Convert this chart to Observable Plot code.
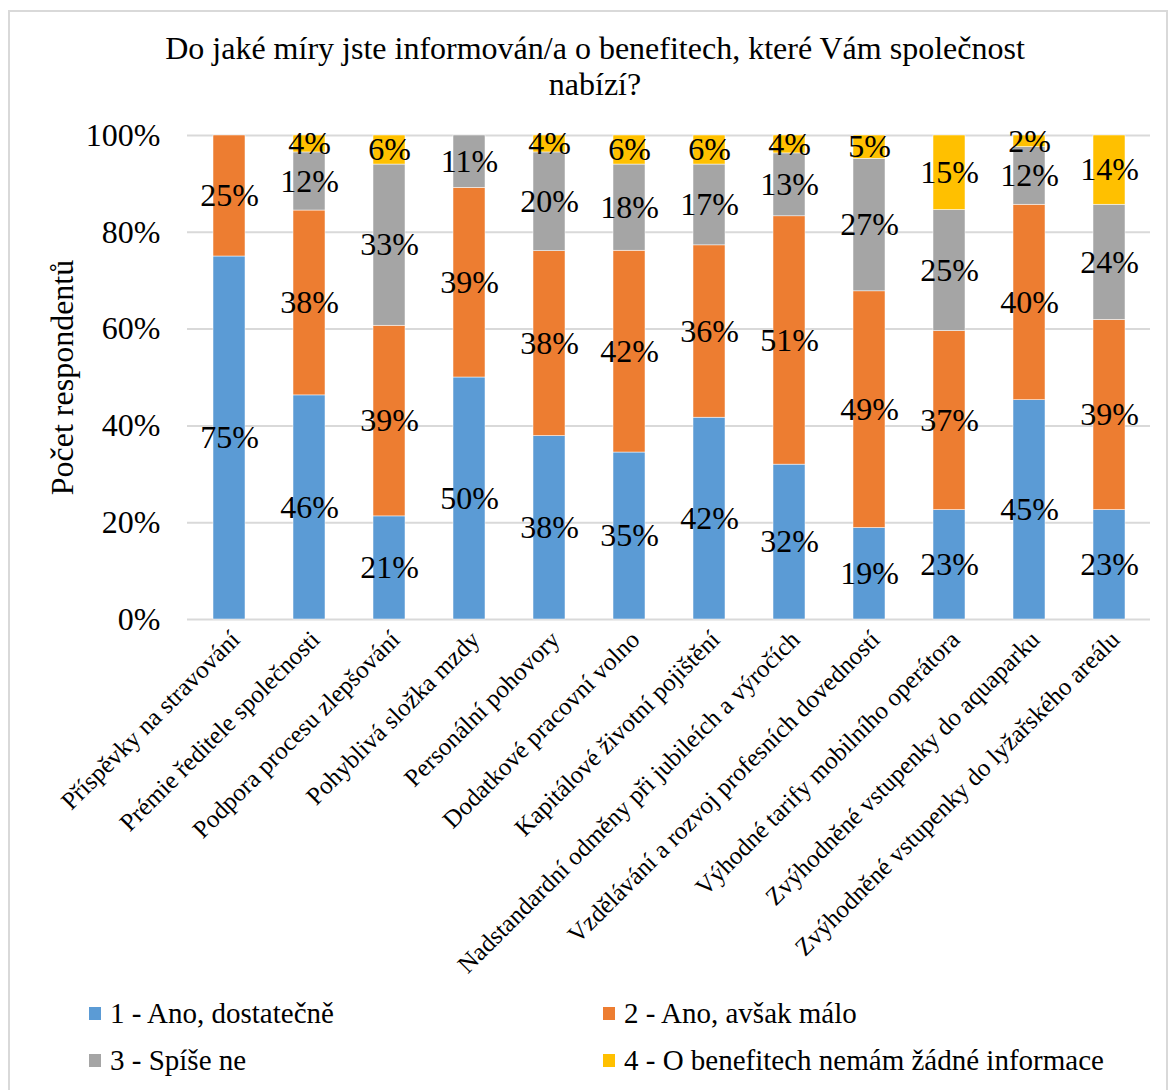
<!DOCTYPE html>
<html><head><meta charset="utf-8">
<script src="https://cdn.jsdelivr.net/npm/d3@7"></script>
<script src="https://cdn.jsdelivr.net/npm/@observablehq/plot@0.6"></script>
<style>
body{margin:0;background:#fff;font-family:'Liberation Serif','Times New Roman',serif;color:#000;}
#frame{position:absolute;left:8px;top:10px;width:1160px;height:1100px;border:2px solid #d9d9d9;box-sizing:border-box;}
#title{position:absolute;left:0;width:1190px;top:30px;text-align:center;font-size:32px;line-height:36px;}
#chart{position:absolute;left:0;top:105px;}
.leg{position:absolute;font-size:29px;line-height:30px;white-space:nowrap;}
.sw{position:absolute;width:12px;height:13px;}
</style></head>
<body>
<div id="frame"></div>
<div id="title">Do jaké míry jste informován/a o benefitech, které Vám společnost<br>nabízí?</div>
<div id="chart"></div>
<div id="legend"></div>
<script>
const categories = [
  "Příspěvky na stravování",
  "Prémie ředitele společnosti",
  "Podpora procesu zlepšování",
  "Pohyblivá složka mzdy",
  "Personální pohovory",
  "Dodatkové pracovní volno",
  "Kapitálové životní pojištění",
  "Nadstandardní odměny při jubileích a výročích",
  "Vzdělávání a rozvoj profesních dovedností",
  "Výhodné tarify mobilního operátora",
  "Zvýhodněné vstupenky do aquaparku",
  "Zvýhodněné vstupenky do lyžařského areálu"
];
const seriesNames = [
  "1 - Ano, dostatečně",
  "2 - Ano, avšak málo",
  "3 - Spíše ne",
  "4 - O benefitech nemám žádné informace"
];
const colors = ["#5B9BD5", "#ED7D31", "#A5A5A5", "#FFC000"];
const s1 = [75.0, 46.3, 21.3, 50.0, 37.9, 34.5, 41.7, 32.0, 18.9, 22.6, 45.3, 22.6];
const s2 = [25.0, 38.2, 39.4, 39.2, 38.2, 41.7, 35.6, 51.3, 48.9, 37.0, 40.4, 39.3];
const s3 = [0.0, 12.0, 33.3, 10.8, 20.4, 17.8, 16.7, 13.0, 27.4, 25.0, 11.9, 23.8];
const s4 = [0.0, 3.5, 6.0, 0.0, 3.5, 6.0, 6.0, 3.7, 4.8, 15.4, 2.4, 14.3];
const yTicks = [0, 20, 40, 60, 80, 100];
const yTitle = "Počet respondentů";

const allSeries = [s1, s2, s3, s4];
const data = [];
allSeries.forEach((arr, si) => arr.forEach((v, ci) => data.push({cat: categories[ci], series: seriesNames[si], value: v})));

const font = "'Liberation Serif','Times New Roman',serif";
const W = 1169, H = 880;
const chart = Plot.plot({
  width: W, height: H,
  marginLeft: 187, marginRight: 19, marginTop: 30, marginBottom: 366,
  style: {fontFamily: font, fontSize: "32px", color: "#000", background: "transparent"},
  x: {domain: categories, paddingInner: 0.6, paddingOuter: 0.3, label: null},
  y: {domain: [0, 100], label: null},
  color: {domain: seriesNames, range: colors},
  marks: [
    Plot.gridY(yTicks, {stroke: "#d9d9d9", strokeOpacity: 1, strokeWidth: 2}),
    Plot.barY(data, {x: "cat", y: "value", fill: "series", stroke: "#fff", strokeWidth: 0.5}),
    Plot.text(data.filter(d => d.value > 0), Plot.stackY({x: "cat", y: "value", z: "series", text: d => Math.round(d.value) + "%", fontSize: 32, fill: "#000"})),
    Plot.axisY(yTicks, {tickSize: 0, tickPadding: 27, tickFormat: d => d + "%", fontSize: 32, label: null}),
    Plot.axisX({tickSize: 0, tickPadding: 16, dx: 6, tickRotate: -45, fontSize: 25, label: null}),
    Plot.text([yTitle], {y: 50, frameAnchor: "left", textAnchor: "middle", rotate: -90, dx: -125, fontSize: 32, fill: "#000"})
  ]
});
document.getElementById("chart").appendChild(chart);

const legend = document.getElementById("legend");
const pos = [[89, 1006], [603, 1006], [89, 1053], [603, 1053]];
seriesNames.forEach((name, i) => {
  const sw = document.createElement("div");
  sw.className = "sw";
  sw.style.left = pos[i][0] + "px";
  sw.style.top = (pos[i][1] + 1) + "px";
  sw.style.background = colors[i];
  legend.appendChild(sw);
  const t = document.createElement("div");
  t.className = "leg";
  t.style.left = (pos[i][0] + 21) + "px";
  t.style.top = (pos[i][1] - 8) + "px";
  t.textContent = name;
  legend.appendChild(t);
});
</script>
</body></html>
